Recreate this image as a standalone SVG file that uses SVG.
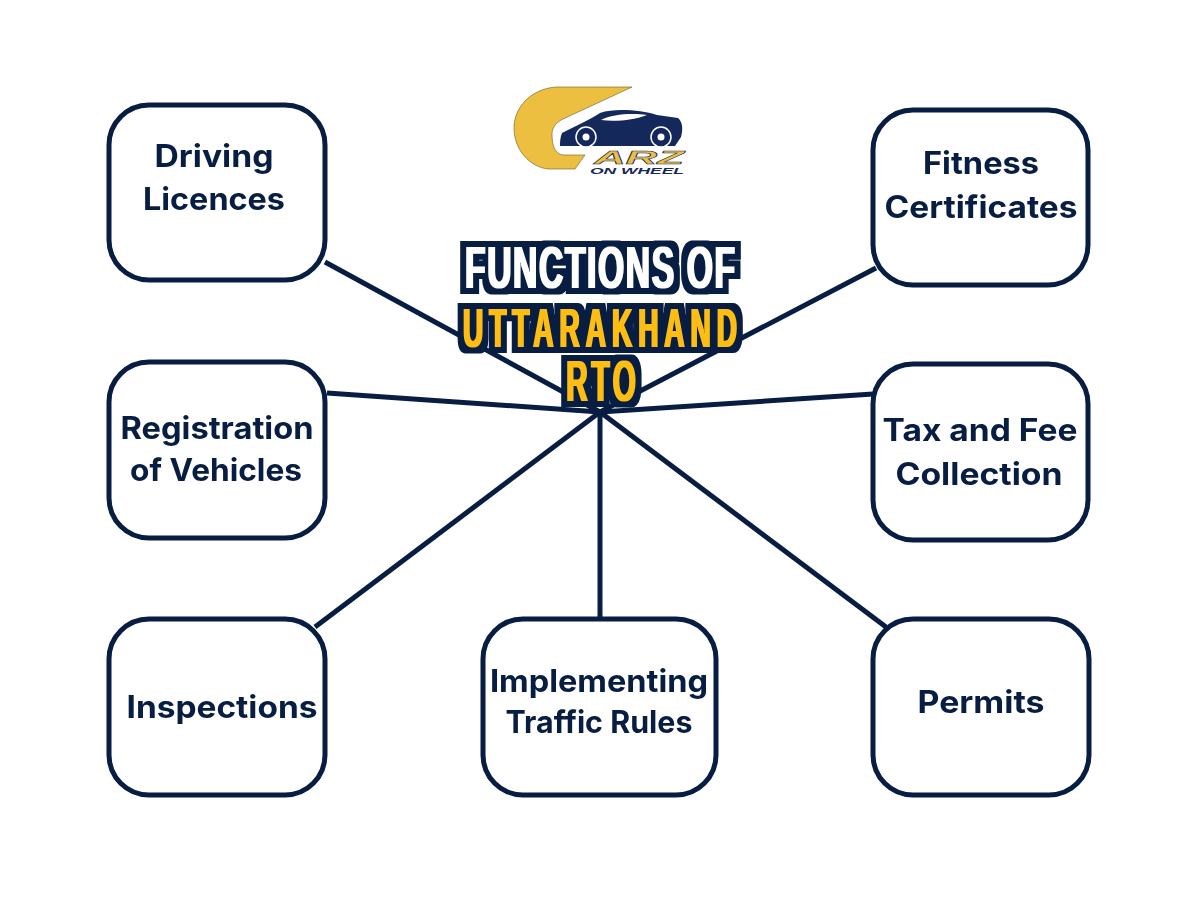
<svg xmlns="http://www.w3.org/2000/svg" width="1200" height="900" viewBox="0 0 1200 900">
<style>
.box{fill:#fff;stroke:#071d42;stroke-width:5}
.lbl{font-family:"Inter","Liberation Sans",sans-serif;font-weight:700;font-size:31px;fill:#071d42;text-anchor:middle}
.con{stroke:#071d42;stroke-width:5;fill:none}
.ttl{font-family:"Liberation Sans",sans-serif;font-weight:700;text-anchor:middle}
</style>
<defs>
<filter id="heavy" filterUnits="userSpaceOnUse" x="440" y="225" width="320" height="195" color-interpolation-filters="sRGB">
<feMorphology in="SourceGraphic" operator="dilate" radius="1.3 0.2" result="fat"/>
<feMorphology in="SourceAlpha" operator="dilate" radius="6.5 6" result="outer"/>
<feFlood flood-color="#071d42"/>
<feComposite in2="outer" operator="in" result="edge"/>
<feMerge><feMergeNode in="edge"/><feMergeNode in="fat"/></feMerge>
</filter>
</defs>
<rect width="1200" height="900" fill="#fff"/>
<g id="connectors">
<line class="con" x1="600" y1="412" x2="325" y2="262"/>
<line class="con" x1="600" y1="412" x2="327" y2="393"/>
<line class="con" x1="600" y1="412" x2="315" y2="627"/>
<line class="con" x1="600" y1="412" x2="600" y2="617"/>
<line class="con" x1="600" y1="412" x2="886" y2="627"/>
<line class="con" x1="600" y1="412" x2="873" y2="394"/>
<line class="con" x1="600" y1="412" x2="876" y2="268"/>
</g>
<g id="logo">
<path d="M632 87H556C530 89 514 108 514 128C514 150 530 167 548 169H575L585 155H563C555 154 552 146 552 134C552 127 557 122 563 119Z" fill="#ecbf41" stroke="#6b5a2a" stroke-width="0.6"/>
<path d="M562 133C575 126 590 120 600 113C615 108 640 110 657 115L678 118C683 122 683 130 681 137L675 146H560C560 142 560 138 562 133Z" fill="#14285c"/>
<path d="M601 120C612 114 632 113 647 115C635 120 615 122 601 120Z" fill="#fff"/>
<circle cx="586" cy="137" r="10" fill="#14285c" stroke="#fff" stroke-width="1.5"/>
<circle cx="586" cy="137" r="3.5" fill="#fff"/>
<circle cx="661" cy="137" r="10" fill="#14285c" stroke="#fff" stroke-width="1.5"/>
<circle cx="661" cy="137" r="3.5" fill="#fff"/>
<text x="594" y="164" font-family="Liberation Sans,sans-serif" font-weight="700" font-style="italic" font-size="19" fill="#ecbf41" stroke="#14285c" stroke-width="0.5" textLength="90" lengthAdjust="spacingAndGlyphs">ARZ</text>
<text x="590" y="174" font-family="Liberation Sans,sans-serif" font-weight="700" font-style="italic" font-size="9.5" fill="#14285c" textLength="94" lengthAdjust="spacingAndGlyphs">ON WHEEL</text>
</g>
<g id="title" filter="url(#heavy)">
<text class="ttl" transform="translate(600 288) scale(.56 1)" font-size="60" fill="#fff" textLength="482" lengthAdjust="spacing">FUNCTIONS OF</text>
<text class="ttl" transform="translate(600 347) scale(.5 1)" font-size="56" fill="#fdbd13" textLength="548" lengthAdjust="spacing">UTTARAKHAND</text>
<text class="ttl" transform="translate(601 401) scale(.52 1)" font-size="57" fill="#fdbd13" textLength="134" lengthAdjust="spacing">RTO</text>
</g>
<g id="n1"><rect class="box" x="109" y="105" width="216" height="175" rx="40"/><text class="lbl" x="214" y="167" textLength="119" lengthAdjust="spacingAndGlyphs">Driving</text><text class="lbl" x="214" y="210" textLength="142" lengthAdjust="spacingAndGlyphs">Licences</text></g>
<g id="n2"><rect class="box" x="873" y="110" width="215" height="175" rx="40"/><text class="lbl" x="981" y="174" textLength="116" lengthAdjust="spacingAndGlyphs">Fitness</text><text class="lbl" x="981" y="218" textLength="193" lengthAdjust="spacingAndGlyphs">Certificates</text></g>
<g id="n3"><rect class="box" x="109" y="362" width="216" height="176" rx="40"/><text class="lbl" x="217" y="439" textLength="193" lengthAdjust="spacingAndGlyphs">Registration</text><text class="lbl" x="216" y="481" textLength="172" lengthAdjust="spacingAndGlyphs">of Vehicles</text></g>
<g id="n4"><rect class="box" x="873" y="364" width="215" height="176" rx="40"/><text class="lbl" x="980" y="441" textLength="195" lengthAdjust="spacingAndGlyphs">Tax and Fee</text><text class="lbl" x="979" y="485" textLength="167" lengthAdjust="spacingAndGlyphs">Collection</text></g>
<g id="n5"><rect class="box" x="109" y="619" width="216" height="176" rx="40"/><text class="lbl" x="222" y="718" textLength="191" lengthAdjust="spacingAndGlyphs">Inspections</text></g>
<g id="n6"><rect class="box" x="483" y="619" width="233" height="176" rx="40"/><text class="lbl" x="599" y="692" textLength="218" lengthAdjust="spacingAndGlyphs">Implementing</text><text class="lbl" x="599" y="733" textLength="187" lengthAdjust="spacingAndGlyphs">Traffic Rules</text></g>
<g id="n7"><rect class="box" x="873" y="619" width="216" height="176" rx="40"/><text class="lbl" x="981" y="713" textLength="127" lengthAdjust="spacingAndGlyphs">Permits</text></g>
</svg>
